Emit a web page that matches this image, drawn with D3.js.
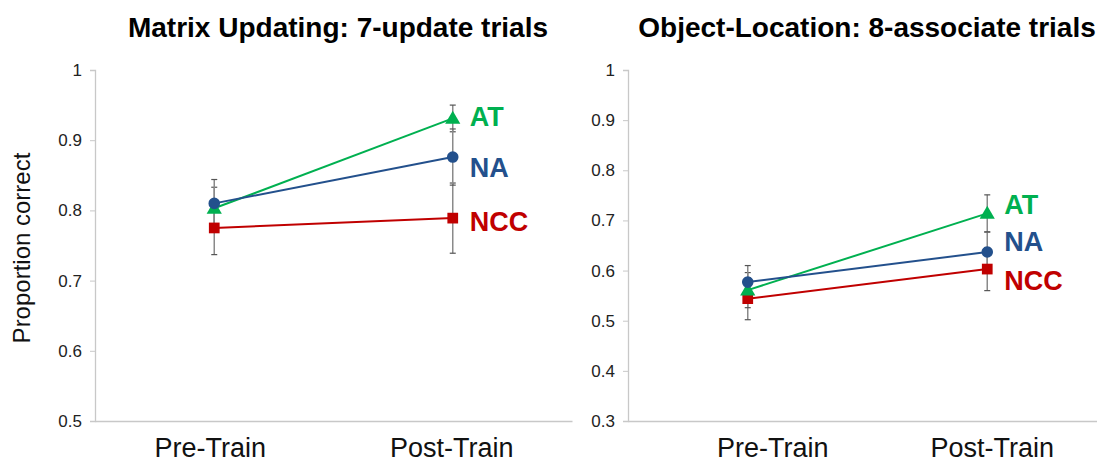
<!DOCTYPE html>
<html><head><meta charset="utf-8">
<script src="https://cdn.jsdelivr.net/npm/d3@7"></script>
<style>body{margin:0;background:#fff}svg{display:block;font-family:"Liberation Sans",Arial,sans-serif}</style>
</head><body><svg id="c" width="1097" height="465"></svg>
<script>
const categories = ["Pre-Train", "Post-Train"];
const groups = ["AT", "NA", "NCC"];
const titles = ["Matrix Updating: 7-update trials", "Object-Location: 8-associate trials"];
const yTicksLeft = [0.5, 0.6, 0.7, 0.8, 0.9, 1];
const yTicksRight = [0.3, 0.4, 0.5, 0.6, 0.7, 0.8, 0.9, 1];
// panel 1 (Matrix Updating)
const mu_AT = [0.803, 0.931];
const mu_NA = [0.810, 0.876];
const mu_NCC = [0.775, 0.789];
const mu_AT_err = [0.030, 0.019];
const mu_NA_err = [0.034, 0.040];
const mu_NCC_err = [0.038, 0.050];
const mu_labelY = [0.934, 0.861, 0.784];
// panel 2 (Object-Location)
const ol_AT = [0.561, 0.714];
const ol_NA = [0.577, 0.637];
const ol_NCC = [0.544, 0.603];
const ol_AT_err = [0.035, 0.037];
const ol_NA_err = [0.033, 0.040];
const ol_NCC_err = [0.042, 0.043];
const ol_labelY = [0.732, 0.658, 0.58];

const colors = {AT: "#00B050", NA: "#23508C", NCC: "#C00000"};
const markers = {AT: d3.symbolTriangle, NA: d3.symbolCircle, NCC: d3.symbolSquare};
const msize = {AT: 100, NA: 105, NCC: 115};

const svg = d3.select("#c");

function panel(cfg) {
  const g = svg.append("g");
  const x = d3.scaleBand().domain(categories).range([cfg.x0, cfg.x1]);
  const y = d3.scaleLinear().domain(cfg.domain).range([421, 70]);
  const cx = c => x(c) + x.bandwidth() / 2;

  // y axis
  const ya = g.append("g").attr("transform", `translate(${cfg.x0},0)`)
    .call(d3.axisLeft(y).tickValues(cfg.ticks).tickSize(5).tickPadding(8)
      .tickFormat(d => d === 1 ? "1" : d3.format(".1f")(d)));
  ya.select(".domain").attr("stroke", "#c8c8c8").attr("stroke-width", 1.3);
  ya.selectAll(".tick line").attr("stroke", "#c8c8c8");
  ya.selectAll(".tick text").attr("font-size", 17).attr("fill", "#222")
    .attr("font-family", "Liberation Sans, Arial, sans-serif");

  // x axis
  const xa = g.append("g").attr("transform", "translate(0,421)")
    .call(d3.axisBottom(x).tickSize(0).tickPadding(17));
  xa.select(".domain").attr("stroke", "#c8c8c8").attr("stroke-width", 1.3);
  xa.selectAll(".tick text").attr("font-size", 27).attr("fill", "#111")
    .attr("font-family", "Liberation Sans, Arial, sans-serif")
    .attr("dx", (d, i) => cfg.labelDx[i]);

  // title
  g.append("text").attr("x", cfg.titleX).attr("y", 37).attr("text-anchor", "middle")
    .attr("font-size", 28).attr("font-weight", "bold").attr("fill", "#000").text(cfg.title);

  const series = groups.map((k, i) => ({key: k, vals: cfg.vals[i], errs: cfg.errs[i], labelY: cfg.labelY[i]}));
  const drawOrder = [series[2], series[0], series[1]];

  // error bars
  drawOrder.forEach(s => {
    categories.forEach((c, j) => {
      const v = s.vals[j], e = s.errs[j], xx = cx(c);
      g.append("line").attr("x1", xx).attr("x2", xx).attr("y1", y(v - e)).attr("y2", y(v + e))
        .attr("stroke", "#8a8a8a").attr("stroke-width", 1.5);
      [v - e, v + e].forEach(t => g.append("line").attr("x1", xx - 3).attr("x2", xx + 3)
        .attr("y1", y(t)).attr("y2", y(t)).attr("stroke", "#555").attr("stroke-width", 1.2));
    });
  });

  // lines and markers
  const line = d3.line().x((d, j) => cx(categories[j])).y(d => y(d));
  drawOrder.forEach(s => {
    g.append("path").datum(s.vals).attr("d", line).attr("fill", "none")
      .attr("stroke", colors[s.key]).attr("stroke-width", 2);
    s.vals.forEach((v, j) => {
      g.append("path").attr("d", d3.symbol(markers[s.key], msize[s.key])())
        .attr("transform", `translate(${cx(categories[j])},${y(v) + (s.key === "AT" ? 1 : 0)})`)
        .attr("fill", colors[s.key]);
    });
    g.append("text").attr("x", cx(categories[1]) + 17).attr("y", y(s.labelY))
      .attr("dy", "0.36em").attr("font-size", 27).attr("font-weight", "bold")
      .attr("fill", colors[s.key]).text(s.key);
  });
}

panel({x0: 95, x1: 572, domain: [0.5, 1], ticks: yTicksLeft, title: titles[0], titleX: 338, labelDx: [-4, -1],
  vals: [mu_AT, mu_NA, mu_NCC], errs: [mu_AT_err, mu_NA_err, mu_NCC_err], labelY: mu_labelY});
panel({x0: 628, x1: 1107, domain: [0.3, 1], ticks: yTicksRight, title: titles[1], titleX: 867, labelDx: [25, 5],
  vals: [ol_AT, ol_NA, ol_NCC], errs: [ol_AT_err, ol_NA_err, ol_NCC_err], labelY: ol_labelY});

svg.append("text").attr("transform", "translate(30,248) rotate(-90)").attr("text-anchor", "middle")
  .attr("font-size", 24).attr("fill", "#111").text("Proportion correct");
</script></body></html>
